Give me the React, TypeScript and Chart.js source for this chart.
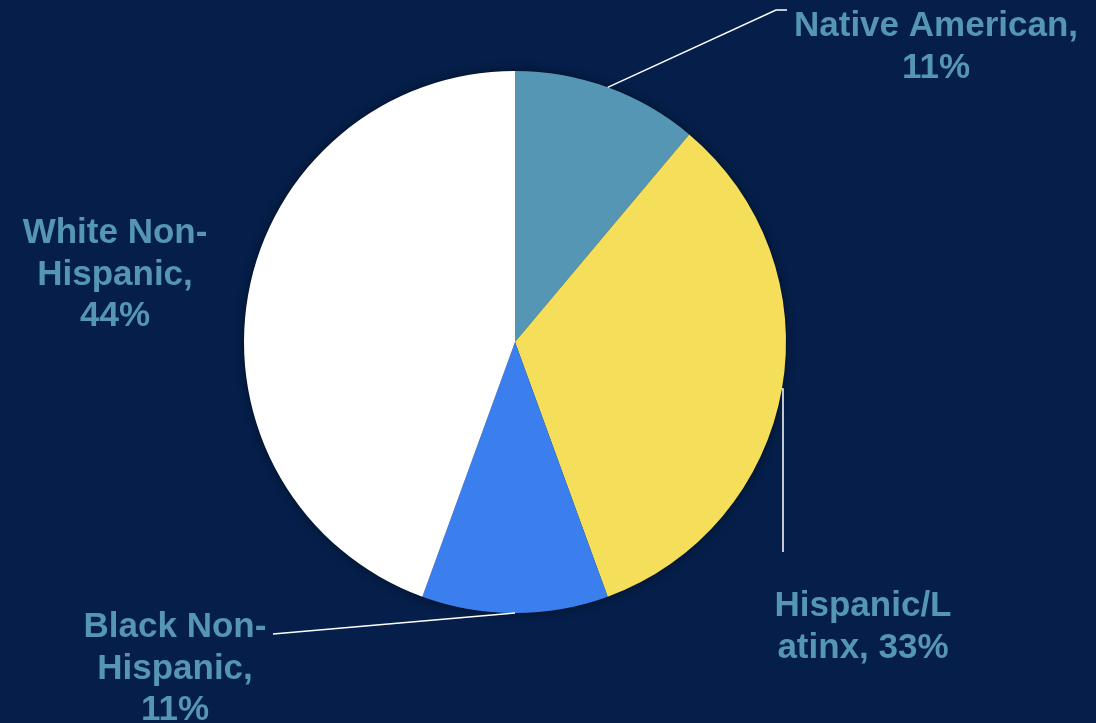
import React, { useEffect, useRef } from "react";
import { Chart, registerables } from "chart.js";

Chart.register(...registerables);

const categories = ["Native American", "Hispanic/Latinx", "Black Non-Hispanic", "White Non-Hispanic"];
const values = [11, 33, 11, 44];
const sliceColors = ["#5596b5", "#f5de59", "#3b7fee", "#ffffff"];
// label lines as displayed (text wrapping of the original)
const labelLines = [
  ["Native American,", "11%"],
  ["Hispanic/L", "atinx, 33%"],
  ["Black Non-", "Hispanic,", "11%"],
  ["White Non-", "Hispanic,", "44%"],
];

const BG = "#051f4a";
const TEXT = "#5596b5";

// label anchors: [centerX, firstBaseline], and leader path end points
const labelAnchors = [
  [936, 36],
  [863, 616],
  [175, 637],
  [115, 243],
];
const leaderPaths: (number[][] | null)[] = [
  [[776, 10], [787, 10]],
  [[783, 389], [783, 552]],
  [[273, 634]],
  null,
];

const labelPlugin = {
  id: "pieLabels",
  beforeDatasetsDraw(chart: any) {
    const meta = chart.getDatasetMeta(0);
    const a = meta.data[0];
    if (!a) return;
    const ctx = chart.ctx;
    ctx.save();
    ctx.shadowColor = "rgba(0,0,0,0.55)";
    ctx.shadowBlur = 10;
    ctx.fillStyle = BG;
    ctx.beginPath();
    ctx.arc(a.x, a.y, a.outerRadius, 0, Math.PI * 2);
    ctx.fill();
    ctx.restore();
  },
  afterDatasetsDraw(chart: any) {
    const ctx = chart.ctx;
    const meta = chart.getDatasetMeta(0);
    ctx.save();
    meta.data.forEach((arc: any, i: number) => {
      const path = leaderPaths[i];
      if (path) {
        const mid = (arc.startAngle + arc.endAngle) / 2;
        const sx = arc.x + Math.cos(mid) * arc.outerRadius;
        const sy = arc.y + Math.sin(mid) * arc.outerRadius;
        ctx.strokeStyle = "#ffffff";
        ctx.lineWidth = 1.5;
        ctx.beginPath();
        ctx.moveTo(sx, sy);
        path.forEach((p) => ctx.lineTo(p[0], p[1]));
        ctx.stroke();
      }
      const [cx, by] = labelAnchors[i];
      ctx.fillStyle = TEXT;
      ctx.font = "bold 35px 'Liberation Sans', Arial, sans-serif";
      ctx.textAlign = "center";
      ctx.textBaseline = "alphabetic";
      labelLines[i].forEach((line, j) => {
        ctx.fillText(line, cx, by + j * 41.5);
      });
    });
    ctx.restore();
  },
};

export default function App() {
  const ref = useRef<HTMLCanvasElement>(null);
  useEffect(() => {
    document.body.style.margin = "0";
    document.body.style.background = BG;
    const chart = new Chart(ref.current!, {
      type: "pie",
      data: {
        labels: categories,
        datasets: [
          {
            data: values,
            backgroundColor: sliceColors,
            borderWidth: 0,
          },
        ],
      },
      options: {
        animation: false,
        responsive: false,
        maintainAspectRatio: false,
        layout: { padding: { left: 244, right: 310, top: 71, bottom: 110 } },
        plugins: {
          legend: { display: false },
          tooltip: { enabled: false },
        },
      },
      plugins: [labelPlugin],
    });
    return () => chart.destroy();
  }, []);
  return (
    <div style={{ width: 1096, height: 723, background: BG }}>
      <canvas ref={ref} width={1096} height={723} style={{ display: "block" }} />
    </div>
  );
}
